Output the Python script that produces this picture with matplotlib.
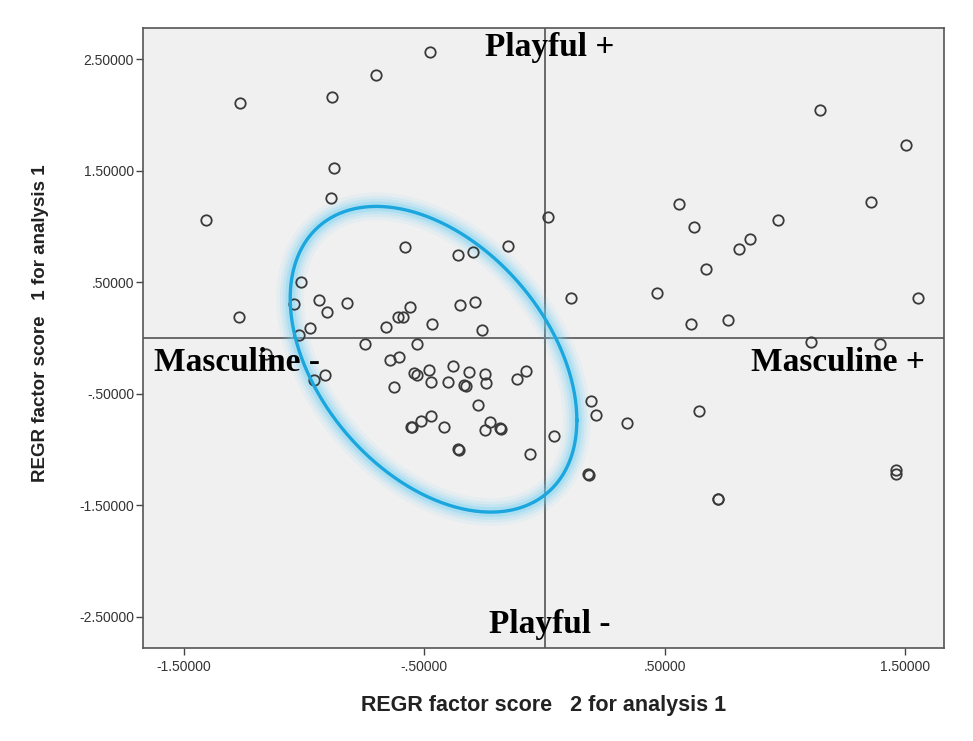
import numpy as np
import matplotlib
matplotlib.use('Agg')
import matplotlib.pyplot as plt

# factor scores (x = factor 2, y = factor 1)
factor2 = [-0.477, -0.700, -1.265, -0.883, -0.877, -0.888, -1.407, 0.012,
           -0.581, -0.362, -0.298, -0.151, -1.013, -1.042, -0.937, -0.906,
           -0.820, -1.270, -0.977, -1.023, -0.661, -0.608, -0.588, -0.561,
           -0.469, -0.352, -0.290, -0.259, 1.145, 1.503, 0.560, 0.620,
           0.971, 1.358, 0.852, 0.809, 0.673, 0.109, 0.466, 1.552,
           0.610, 0.762, 1.107, 1.395, 0.194, 0.213, 0.342, 0.644,
           0.040, 0.182, 0.185, 0.720, 0.723, 1.462, 1.462, -0.746,
           -0.531, -1.160, -0.643, -0.606, -0.914, -0.960, -0.543, -0.530,
           -0.481, -0.474, -0.380, -0.402, -0.315, -0.334, -0.329, -0.248,
           -0.242, -0.114, -0.076, -0.628, -0.276, -0.557, -0.552, -0.514,
           -0.473, -0.420, -0.226, -0.249, -0.186, -0.181, -0.360, -0.355,
           -0.059]
factor1 = [2.57, 2.36, 2.11, 2.16, 1.53, 1.26, 1.06, 1.09,
           0.815, 0.746, 0.768, 0.827, 0.502, 0.307, 0.338, 0.230,
           0.311, 0.191, 0.090, 0.027, 0.101, 0.191, 0.191, 0.275,
           0.128, 0.293, 0.325, 0.075, 2.05, 1.73, 1.20, 1.00,
           1.06, 1.22, 0.890, 0.800, 0.618, 0.358, 0.403, 0.358,
           0.128, 0.161, -0.033, -0.054, -0.56, -0.69, -0.76, -0.65,
           -0.88, -1.22, -1.225, -1.44, -1.445, -1.18, -1.22, -0.054,
           -0.054, -0.146, -0.194, -0.173, -0.329, -0.379, -0.317, -0.332,
           -0.287, -0.394, -0.248, -0.394, -0.302, -0.424, -0.430, -0.320,
           -0.406, -0.370, -0.293, -0.442, -0.603, -0.795, -0.800, -0.744,
           -0.696, -0.797, -0.750, -0.824, -0.810, -0.815, -0.998, -1.003,
           -1.043]

tick_vals = [-1.5, -0.5, 0.5, 1.5]
xtick_labels = ['-1.50000', '-.50000', '.50000', '1.50000']
ytick_vals = [-2.5, -1.5, -0.5, 0.5, 1.5, 2.5]
ytick_labels = ['-2.50000', '-1.50000', '-.50000', '.50000', '1.50000', '2.50000']

# hand drawn highlight ellipse (centre, half widths, x-y coupling)
ell_center = (-0.462, -0.19)
ell_hx = 0.596
ell_hy = 1.371
ell_sxy = -0.326

fig = plt.figure(figsize=(9.73, 7.41), dpi=100)
ax = fig.add_axes([0.147, 0.1255, 0.823, 0.8365])
ax.set_facecolor('#f0f0f0')
for sp in ax.spines.values():
    sp.set_color('#555555')
    sp.set_linewidth(1.2)

ax.set_xlim(-1.67, 1.66)
ax.set_ylim(-2.78, 2.78)

# reference lines through the origin
ax.axvline(0, color='#6a6a6a', linewidth=1.4, zorder=1)
ax.axhline(0, color='#6a6a6a', linewidth=1.4, zorder=1)

ax.plot(factor2, factor1, 'o', markersize=7.5, markerfacecolor='none',
        markeredgecolor='#3a3a3a', markeredgewidth=1.3, zorder=3)

# ellipse with soft glow
t = np.linspace(0, 2*np.pi, 400)
L = np.linalg.cholesky(np.array([[ell_hx**2, ell_sxy], [ell_sxy, ell_hy**2]]))
pts = L @ np.vstack([np.cos(t), np.sin(t)])
ex = ell_center[0] + pts[0]
ey = ell_center[1] + pts[1]
for lw, a in [(20, 0.08), (15, 0.12), (11, 0.18), (7, 0.28)]:
    ax.plot(ex, ey, color='#6fd2f4', linewidth=lw, alpha=a, solid_capstyle='round', zorder=2)
ax.plot(ex, ey, color='#1ba6de', linewidth=2.4, zorder=4)

# quadrant labels
serif = dict(family='Liberation Serif', fontsize=24, fontweight='bold', color='black', zorder=5)
ax.text(0.02, 2.61, 'Playful +', ha='center', va='center', **serif)
ax.text(0.02, -2.57, 'Playful -', ha='center', va='center', **serif)
ax.text(-1.626, -0.215, 'Masculine -', ha='left', va='center', **serif)
ax.text(1.583, -0.215, 'Masculine +', ha='right', va='center', **serif)

ax.set_xticks(tick_vals)
ax.set_xticklabels(xtick_labels)
ax.set_yticks(ytick_vals)
ax.set_yticklabels(ytick_labels)
ax.tick_params(direction='out', length=5, width=1, color='#444444',
               labelsize=10, labelcolor='#333333')
ax.tick_params(axis='y', pad=1.5)
for lab in ax.get_xticklabels() + ax.get_yticklabels():
    lab.set_family('Liberation Sans')

ax.set_xlabel('REGR factor score   2 for analysis 1', family='Liberation Sans',
              fontsize=15.5, fontweight='bold', color='#222222', labelpad=15)
ax.set_ylabel('REGR factor score   1 for analysis 1', family='Liberation Sans',
              fontsize=13.5, fontweight='bold', color='#222222')
ax.yaxis.set_label_coords(-0.117, 0.524)

fig.savefig('out.png', dpi=100)
